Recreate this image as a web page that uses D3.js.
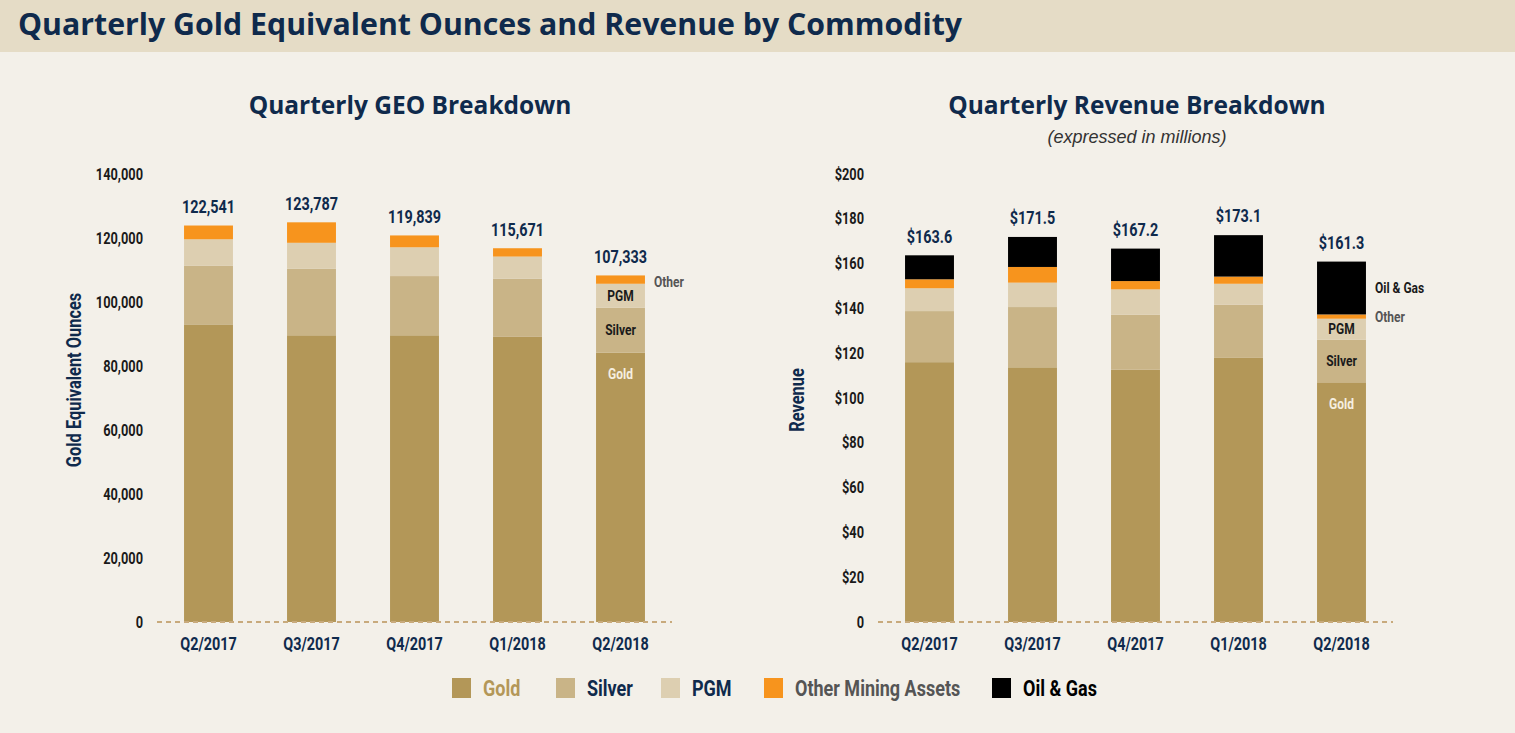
<!DOCTYPE html>
<html>
<head>
<meta charset="utf-8">
<script src="https://cdn.jsdelivr.net/npm/d3@7"></script>
<style>
  html, body { margin: 0; padding: 0; background: #f3f0e9; }
  svg { display: block; }
  .cond { font-family: "Roboto", "Liberation Sans", sans-serif; font-weight: 700; }
  .head { font-family: "Open Sans", "DejaVu Sans", sans-serif; font-weight: 700; }
</style>
</head>
<body>
<svg id="chart" width="1515" height="733"></svg>
<script>
// ---------- DATA ----------
const categories = ["Q2/2017", "Q3/2017", "Q4/2017", "Q1/2018", "Q2/2018"];

// Gold equivalent ounces
const geoGold   = [93000, 89600, 89600, 89100, 84200];
const geoSilver = [18300, 20800, 18500, 18200, 14000];
const geoPGM    = [8300, 8100, 9000, 6900, 7500];
const geoOther  = [4300, 6400, 3700, 2600, 2600];
const geoTotalLabels = ["122,541", "123,787", "119,839", "115,671", "107,333"];
const geoTicks = [0, 20000, 40000, 60000, 80000, 100000, 120000, 140000];

// Revenue ($ millions)
const revGold   = [116.0, 113.7, 112.7, 117.9, 107.0];
const revSilver = [22.8, 26.9, 24.5, 23.7, 19.0];
const revPGM    = [10.2, 10.9, 11.3, 9.4, 9.4];
const revOther  = [4.0, 7.0, 3.7, 3.2, 1.9];
const revOil    = [10.7, 13.4, 14.5, 18.5, 23.6];
const revTotalLabels = ["$163.6", "$171.5", "$167.2", "$173.1", "$161.3"];
const revTicks = [0, 20, 40, 60, 80, 100, 120, 140, 160, 180, 200];

const legendNames = ["Gold", "Silver", "PGM", "Other Mining Assets", "Oil & Gas"];
const segLabelsGeo = ["Gold", "Silver", "PGM", "Other"];
const segLabelsRev = ["Gold", "Silver", "PGM", "Other", "Oil & Gas"];

// ---------- STYLE ----------
const colors = ["#b39758", "#c9b487", "#ddcfb1", "#f7941d", "#000000"];
const navy = "#0f2a4c";
const condense = 0.8;

const svg = d3.select("#chart");

// background + banner
svg.append("rect").attr("width", 1515).attr("height", 733).attr("fill", "#f3f0e9");
svg.append("rect").attr("width", 1515).attr("height", 52).attr("fill", "#e5dcc6");
svg.append("text").attr("class", "head")
  .attr("x", 18).attr("y", 35)
  .attr("font-size", 30).attr("fill", navy)
  .attr("textLength", 944).attr("lengthAdjust", "spacingAndGlyphs")
  .text("Quarterly Gold Equivalent Ounces and Revenue by Commodity");

const plotTop = 174, plotBottom = 622;

function drawChart(opt) {
  const g = svg.append("g");
  const x = d3.scaleBand().domain(categories)
    .range([opt.x0, opt.x0 + 515]).paddingInner(0.525).paddingOuter(0.2625);
  const y = d3.scaleLinear().domain([0, opt.max]).range([plotBottom, plotTop]);

  const rows = categories.map((c, i) => {
    const r = { cat: c };
    opt.series.forEach((s, k) => r["s" + k] = s[i]);
    return r;
  });
  const keys = opt.series.map((s, k) => "s" + k);
  const stacked = d3.stack().keys(keys)(rows);

  // y axis
  const yAxis = d3.axisLeft(y).tickValues(opt.ticks).tickSize(0).tickPadding(14)
    .tickFormat(opt.tickFormat);
  const ya = g.append("g").attr("transform", `translate(${opt.x0},0)`).call(yAxis);
  ya.select(".domain").remove();
  ya.selectAll("text").attr("class", "cond").attr("font-size", 16).attr("fill", "#1a1a1a");

  // bars
  stacked.forEach((layer, k) => {
    g.append("g").selectAll("rect").data(layer).join("rect")
      .attr("x", d => x(d.data.cat))
      .attr("width", x.bandwidth())
      .attr("y", d => y(d[1]))
      .attr("height", d => y(d[0]) - y(d[1]))
      .attr("fill", colors[k]);
  });

  // baseline dashed
  g.append("line")
    .attr("x1", opt.x0).attr("x2", opt.x0 + 515)
    .attr("y1", y(0)).attr("y2", y(0))
    .attr("stroke", "#c8aa7c").attr("stroke-width", 2)
    .attr("stroke-dasharray", "5,4");

  // x axis labels
  const xAxis = d3.axisBottom(x).tickSize(0).tickPadding(15);
  const xa = g.append("g").attr("transform", `translate(0,${plotBottom})`).call(xAxis);
  xa.select(".domain").remove();
  xa.selectAll("text").attr("class", "cond").attr("font-size", 18).attr("fill", navy);

  // totals
  const last = stacked[stacked.length - 1];
  g.append("g").selectAll("text").data(last).join("text")
    .attr("class", "cond")
    .attr("x", d => x(d.data.cat) + x.bandwidth() / 2)
    .attr("y", d => y(d[1]) - 19)
    .attr("dy", "0.35em")
    .attr("text-anchor", "middle")
    .attr("font-size", 18).attr("fill", navy)
    .text((d, i) => opt.totals[i]);

  // segment labels on last bar
  const li = categories.length - 1;
  const cx = x(categories[li]) + x.bandwidth() / 2;
  const rx = x(categories[li]) + x.bandwidth() + 9;
  stacked.forEach((layer, k) => {
    const d = layer[li];
    const name = opt.segLabels[k];
    let tx, ty, anchor = "middle", fill = "#1a1a1a", fs = 15;
    if (k === 0) { tx = cx; ty = y(d[1]) + 21; fill = "#f6efe0"; }
    else if (k === 1 || k === 2) { tx = cx; ty = (y(d[0]) + y(d[1])) / 2; }
    else { tx = rx; ty = (y(d[0]) + y(d[1])) / 2 + (k === 3 && opt.series.length === 4 ? 2 : 0); anchor = "start"; fill = k === 3 ? "#555" : "#1a1a1a"; }
    g.append("text").attr("class", "cond")
      .attr("x", tx).attr("y", ty).attr("dy", "0.35em")
      .attr("text-anchor", anchor).attr("font-size", fs).attr("fill", fill)
      .text(name);
  });

  // titles
  g.append("text").attr("class", "head")
    .attr("x", opt.titleX).attr("y", 114).attr("text-anchor", "middle")
    .attr("font-size", 24.5).attr("fill", navy).text(opt.title);
  if (opt.subtitle) {
    g.append("text")
      .attr("x", opt.titleX).attr("y", 143).attr("text-anchor", "middle")
      .attr("font-family", "Liberation Sans, Arial, sans-serif")
      .attr("font-style", "italic")
      .attr("font-size", 18).attr("fill", "#333").text(opt.subtitle);
  }
  g.append("text").attr("class", "cond")
    .attr("transform", `translate(${opt.axisTitleX},${opt.axisTitleY}) rotate(-90)`)
    .attr("text-anchor", "middle").attr("dy", "0.35em")
    .attr("font-size", 20.5).attr("fill", navy).text(opt.axisTitle);
}

drawChart({
  x0: 157, max: 140000, ticks: geoTicks,
  tickFormat: d3.format(","),
  series: [geoGold, geoSilver, geoPGM, geoOther],
  totals: geoTotalLabels, segLabels: segLabelsGeo,
  title: "Quarterly GEO Breakdown", titleX: 410,
  axisTitle: "Gold Equivalent Ounces", axisTitleX: 74, axisTitleY: 380
});

drawChart({
  x0: 878, max: 200, ticks: revTicks,
  tickFormat: d => d === 0 ? "0" : "$" + d,
  series: [revGold, revSilver, revPGM, revOther, revOil],
  totals: revTotalLabels, segLabels: segLabelsRev,
  title: "Quarterly Revenue Breakdown", subtitle: "(expressed in millions)", titleX: 1137,
  axisTitle: "Revenue", axisTitleX: 797, axisTitleY: 400
});

// legend
const legendX = [452, 556, 661, 764, 992];
const legendTextColors = ["#b39758", navy, navy, "#555555", "#000000"];
const lg = svg.append("g");
legendNames.forEach((n, i) => {
  lg.append("rect").attr("x", legendX[i]).attr("y", 678).attr("width", 19).attr("height", 20)
    .attr("fill", colors[i]);
  lg.append("text").attr("class", "cond")
    .attr("x", legendX[i] + 31).attr("y", 688).attr("dy", "0.35em")
    .attr("font-size", 22.5).attr("fill", legendTextColors[i]).text(n);
});

// condense the narrow-style text (no condensed face installed)
svg.selectAll("text.cond").each(function () {
  const w = this.getComputedTextLength();
  d3.select(this).attr("textLength", w * condense).attr("lengthAdjust", "spacingAndGlyphs");
});
</script>
</body>
</html>
